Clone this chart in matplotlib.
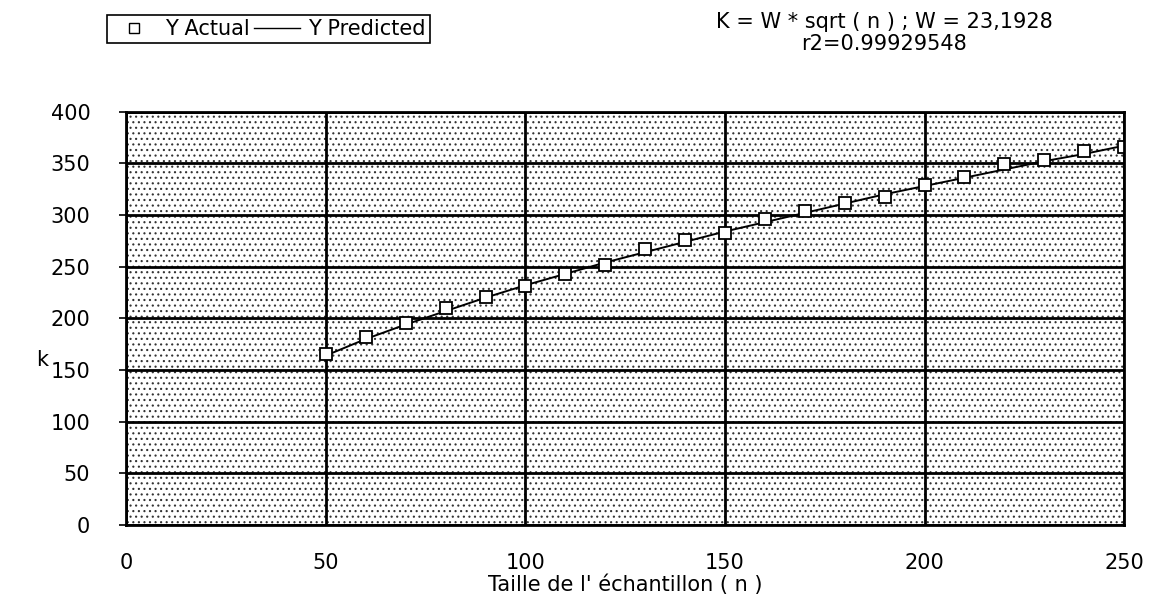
import matplotlib
matplotlib.use('Agg')
import matplotlib.pyplot as plt
from matplotlib.lines import Line2D
from matplotlib.patches import Rectangle

plt.rcParams['font.family'] = ['DejaVu Sans']
plt.rcParams['hatch.linewidth'] = 0.8

# donnees
n = [50, 60, 70, 80, 90, 100, 110, 120, 130, 140, 150,
     160, 170, 180, 190, 200, 210, 220, 230, 240, 250]
y_actual = [165, 182, 195, 210, 221, 231, 243, 252, 267, 276, 283,
            296, 304, 312, 317, 329, 337, 349, 353, 362, 366]
y_pred = [164, 180, 194, 207, 220, 232, 243, 254, 264, 274, 284,
          293, 302, 311, 320, 328, 336, 344, 352, 359, 367]
x_ticks = [0, 50, 100, 150, 200, 250]
y_ticks = [0, 50, 100, 150, 200, 250, 300, 350, 400]

fig = plt.figure(figsize=(11.6, 6), dpi=100)
ax = fig.add_axes([0.109, 0.125, 0.86, 0.689])

# fond pointille
bg = Rectangle((0, 0), 1, 1, transform=ax.transAxes, facecolor='white',
               edgecolor='#333333', hatch='...', linewidth=0, zorder=0)
ax.add_patch(bg)

ax.plot(n, y_pred, color='black', linewidth=1.4, zorder=3)
ax.plot(n, y_actual, linestyle='none', marker='s', markersize=9,
        markerfacecolor='white', markeredgecolor='black',
        markeredgewidth=1.3, zorder=4)

ax.set_xlim(0, 250)
ax.set_ylim(0, 400)
ax.set_xticks(x_ticks)
ax.set_yticks(y_ticks)
ax.grid(True, color='black', linewidth=2.0, zorder=1)
ax.set_axisbelow(True)
for s in ax.spines.values():
    s.set_linewidth(2.0)
    s.set_zorder(5)
ax.tick_params(axis='y', length=5, width=1.2, pad=21, labelsize=15)
ax.tick_params(axis='x', length=0, pad=20, labelsize=15)

ax.set_xlabel("Taille de l' échantillon ( n )", fontsize=15, labelpad=1)
fig.text(0.036, 0.40, 'k', fontsize=15, ha='center', va='center')

handles = [Line2D([], [], linestyle='none', marker='s', markersize=7,
                  markerfacecolor='white', markeredgecolor='black'),
           Line2D([], [], color='black', linewidth=1.0)]
leg = fig.legend(handles, ['Y Actual', 'Y Predicted'], ncol=2,
                 loc='upper left', bbox_to_anchor=(0.092, 0.975),
                 fontsize=15, frameon=True, fancybox=False,
                 framealpha=1, edgecolor='black', handlelength=2.2,
                 handletextpad=0.4, columnspacing=0.2,
                 borderpad=0.2, borderaxespad=0)
leg.get_frame().set_linewidth(1.2)

fig.text(0.762, 0.963, 'K = W * sqrt ( n ) ; W = 23,1928', fontsize=15,
         ha='center', va='center')
fig.text(0.762, 0.927, 'r2=0.99929548', fontsize=15,
         ha='center', va='center')

fig.savefig('out.png', dpi=100)
